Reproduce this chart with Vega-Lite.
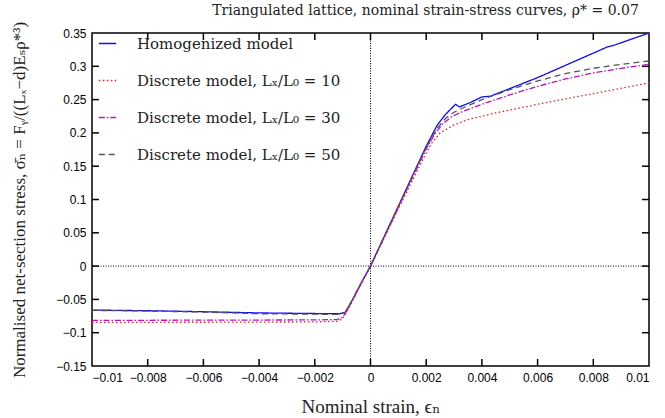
{
  "$schema": "https://vega.github.io/schema/vega-lite/v6.json",
  "width": 557,
  "height": 333,
  "padding": {"left": 92, "top": 33, "right": 16, "bottom": 52},
  "autosize": {"type": "none"},
  "background": "white",
  "title": {
    "text": "Triangulated lattice, nominal strain-stress curves, ρ* = 0.07",
    "font": "DejaVu Serif",
    "fontSize": 14,
    "fontWeight": "normal",
    "color": "#222",
    "anchor": "middle",
    "dx": 55,
    "offset": 3
  },
  "config": {
    "view": {"stroke": "black", "strokeWidth": 1.5},
    "axis": {
      "grid": false,
      "domain": false,
      "ticks": false,
      "labelPadding": 6,
      "labelFont": "Liberation Sans",
      "labelFontSize": 12,
      "labelColor": "black",
      "titleFont": "Liberation Serif, DejaVu Serif",
      "titleFontSize": 17,
      "titleFontWeight": "normal",
      "titleColor": "#222"
    },
    "legend": {
      "labelFont": "DejaVu Serif",
      "labelFontSize": 15,
      "labelColor": "#222",
      "labelLimit": 400
    }
  },
  "datasets": {
    "strainTicks": [
      {"strain": -0.008}, {"strain": -0.006}, {"strain": -0.004}, {"strain": -0.002},
      {"strain": 0}, {"strain": 0.002}, {"strain": 0.004}, {"strain": 0.006}, {"strain": 0.008}
    ],
    "stressTicks": [
      {"stress": -0.1}, {"stress": -0.05}, {"stress": 0}, {"stress": 0.05}, {"stress": 0.1},
      {"stress": 0.15}, {"stress": 0.2}, {"stress": 0.25}, {"stress": 0.3}
    ],
    "curves": [
      {"model": "Homogenized model", "strain": -0.01, "stress": -0.066},
      {"model": "Homogenized model", "strain": -0.008, "stress": -0.067},
      {"model": "Homogenized model", "strain": -0.006, "stress": -0.0685},
      {"model": "Homogenized model", "strain": -0.004, "stress": -0.0703},
      {"model": "Homogenized model", "strain": -0.002, "stress": -0.0712},
      {"model": "Homogenized model", "strain": -0.0011, "stress": -0.0716},
      {"model": "Homogenized model", "strain": -0.0009, "stress": -0.069},
      {"model": "Homogenized model", "strain": -0.0006, "stress": -0.047},
      {"model": "Homogenized model", "strain": -0.0003, "stress": -0.023},
      {"model": "Homogenized model", "strain": 0, "stress": 0},
      {"model": "Homogenized model", "strain": 0.0005, "stress": 0.045},
      {"model": "Homogenized model", "strain": 0.001, "stress": 0.09},
      {"model": "Homogenized model", "strain": 0.0015, "stress": 0.135},
      {"model": "Homogenized model", "strain": 0.002, "stress": 0.18},
      {"model": "Homogenized model", "strain": 0.0024, "stress": 0.212},
      {"model": "Homogenized model", "strain": 0.0027, "stress": 0.228},
      {"model": "Homogenized model", "strain": 0.00305, "stress": 0.243},
      {"model": "Homogenized model", "strain": 0.0032, "stress": 0.239},
      {"model": "Homogenized model", "strain": 0.0036, "stress": 0.246},
      {"model": "Homogenized model", "strain": 0.004, "stress": 0.254},
      {"model": "Homogenized model", "strain": 0.0043, "stress": 0.255},
      {"model": "Homogenized model", "strain": 0.006, "stress": 0.283},
      {"model": "Homogenized model", "strain": 0.0085, "stress": 0.329},
      {"model": "Homogenized model", "strain": 0.0087, "stress": 0.331},
      {"model": "Homogenized model", "strain": 0.01, "stress": 0.35},

      {"model": "Discrete model, Lₓ/L₀ = 10", "strain": -0.01, "stress": -0.0845},
      {"model": "Discrete model, Lₓ/L₀ = 10", "strain": -0.006, "stress": -0.0843},
      {"model": "Discrete model, Lₓ/L₀ = 10", "strain": -0.002, "stress": -0.0838},
      {"model": "Discrete model, Lₓ/L₀ = 10", "strain": -0.0012, "stress": -0.0828},
      {"model": "Discrete model, Lₓ/L₀ = 10", "strain": -0.001, "stress": -0.079},
      {"model": "Discrete model, Lₓ/L₀ = 10", "strain": -0.0008, "stress": -0.065},
      {"model": "Discrete model, Lₓ/L₀ = 10", "strain": -0.0005, "stress": -0.04},
      {"model": "Discrete model, Lₓ/L₀ = 10", "strain": -0.0002, "stress": -0.015},
      {"model": "Discrete model, Lₓ/L₀ = 10", "strain": 0, "stress": 0},
      {"model": "Discrete model, Lₓ/L₀ = 10", "strain": 0.0005, "stress": 0.043},
      {"model": "Discrete model, Lₓ/L₀ = 10", "strain": 0.001, "stress": 0.086},
      {"model": "Discrete model, Lₓ/L₀ = 10", "strain": 0.0015, "stress": 0.128},
      {"model": "Discrete model, Lₓ/L₀ = 10", "strain": 0.0019, "stress": 0.162},
      {"model": "Discrete model, Lₓ/L₀ = 10", "strain": 0.0022, "stress": 0.185},
      {"model": "Discrete model, Lₓ/L₀ = 10", "strain": 0.0025, "stress": 0.2},
      {"model": "Discrete model, Lₓ/L₀ = 10", "strain": 0.003, "stress": 0.212},
      {"model": "Discrete model, Lₓ/L₀ = 10", "strain": 0.0035, "stress": 0.22},
      {"model": "Discrete model, Lₓ/L₀ = 10", "strain": 0.0045, "stress": 0.23},
      {"model": "Discrete model, Lₓ/L₀ = 10", "strain": 0.006, "stress": 0.243},
      {"model": "Discrete model, Lₓ/L₀ = 10", "strain": 0.008, "stress": 0.259},
      {"model": "Discrete model, Lₓ/L₀ = 10", "strain": 0.01, "stress": 0.275},

      {"model": "Discrete model, Lₓ/L₀ = 30", "strain": -0.01, "stress": -0.0815},
      {"model": "Discrete model, Lₓ/L₀ = 30", "strain": -0.006, "stress": -0.0812},
      {"model": "Discrete model, Lₓ/L₀ = 30", "strain": -0.002, "stress": -0.0808},
      {"model": "Discrete model, Lₓ/L₀ = 30", "strain": -0.0012, "stress": -0.0803},
      {"model": "Discrete model, Lₓ/L₀ = 30", "strain": -0.001, "stress": -0.077},
      {"model": "Discrete model, Lₓ/L₀ = 30", "strain": -0.0008, "stress": -0.063},
      {"model": "Discrete model, Lₓ/L₀ = 30", "strain": -0.0005, "stress": -0.038},
      {"model": "Discrete model, Lₓ/L₀ = 30", "strain": -0.0002, "stress": -0.015},
      {"model": "Discrete model, Lₓ/L₀ = 30", "strain": 0, "stress": 0},
      {"model": "Discrete model, Lₓ/L₀ = 30", "strain": 0.0005, "stress": 0.044},
      {"model": "Discrete model, Lₓ/L₀ = 30", "strain": 0.001, "stress": 0.088},
      {"model": "Discrete model, Lₓ/L₀ = 30", "strain": 0.0015, "stress": 0.132},
      {"model": "Discrete model, Lₓ/L₀ = 30", "strain": 0.002, "stress": 0.176},
      {"model": "Discrete model, Lₓ/L₀ = 30", "strain": 0.0023, "stress": 0.198},
      {"model": "Discrete model, Lₓ/L₀ = 30", "strain": 0.0026, "stress": 0.214},
      {"model": "Discrete model, Lₓ/L₀ = 30", "strain": 0.0029, "stress": 0.224},
      {"model": "Discrete model, Lₓ/L₀ = 30", "strain": 0.0033, "stress": 0.232},
      {"model": "Discrete model, Lₓ/L₀ = 30", "strain": 0.004, "stress": 0.243},
      {"model": "Discrete model, Lₓ/L₀ = 30", "strain": 0.005, "stress": 0.257},
      {"model": "Discrete model, Lₓ/L₀ = 30", "strain": 0.006, "stress": 0.27},
      {"model": "Discrete model, Lₓ/L₀ = 30", "strain": 0.007, "stress": 0.281},
      {"model": "Discrete model, Lₓ/L₀ = 30", "strain": 0.008, "stress": 0.29},
      {"model": "Discrete model, Lₓ/L₀ = 30", "strain": 0.009, "stress": 0.297},
      {"model": "Discrete model, Lₓ/L₀ = 30", "strain": 0.01, "stress": 0.303},

      {"model": "Discrete model, Lₓ/L₀ = 50", "strain": -0.01, "stress": -0.0665},
      {"model": "Discrete model, Lₓ/L₀ = 50", "strain": -0.008, "stress": -0.0675},
      {"model": "Discrete model, Lₓ/L₀ = 50", "strain": -0.006, "stress": -0.069},
      {"model": "Discrete model, Lₓ/L₀ = 50", "strain": -0.004, "stress": -0.0715},
      {"model": "Discrete model, Lₓ/L₀ = 50", "strain": -0.002, "stress": -0.0722},
      {"model": "Discrete model, Lₓ/L₀ = 50", "strain": -0.0011, "stress": -0.0725},
      {"model": "Discrete model, Lₓ/L₀ = 50", "strain": -0.0009, "stress": -0.0695},
      {"model": "Discrete model, Lₓ/L₀ = 50", "strain": -0.0006, "stress": -0.047},
      {"model": "Discrete model, Lₓ/L₀ = 50", "strain": -0.0003, "stress": -0.023},
      {"model": "Discrete model, Lₓ/L₀ = 50", "strain": 0, "stress": 0},
      {"model": "Discrete model, Lₓ/L₀ = 50", "strain": 0.0005, "stress": 0.045},
      {"model": "Discrete model, Lₓ/L₀ = 50", "strain": 0.001, "stress": 0.09},
      {"model": "Discrete model, Lₓ/L₀ = 50", "strain": 0.0015, "stress": 0.134},
      {"model": "Discrete model, Lₓ/L₀ = 50", "strain": 0.002, "stress": 0.178},
      {"model": "Discrete model, Lₓ/L₀ = 50", "strain": 0.0024, "stress": 0.207},
      {"model": "Discrete model, Lₓ/L₀ = 50", "strain": 0.0027, "stress": 0.222},
      {"model": "Discrete model, Lₓ/L₀ = 50", "strain": 0.003, "stress": 0.231},
      {"model": "Discrete model, Lₓ/L₀ = 50", "strain": 0.0033, "stress": 0.237},
      {"model": "Discrete model, Lₓ/L₀ = 50", "strain": 0.004, "stress": 0.25},
      {"model": "Discrete model, Lₓ/L₀ = 50", "strain": 0.005, "stress": 0.265},
      {"model": "Discrete model, Lₓ/L₀ = 50", "strain": 0.006, "stress": 0.278},
      {"model": "Discrete model, Lₓ/L₀ = 50", "strain": 0.007, "stress": 0.289},
      {"model": "Discrete model, Lₓ/L₀ = 50", "strain": 0.008, "stress": 0.297},
      {"model": "Discrete model, Lₓ/L₀ = 50", "strain": 0.009, "stress": 0.303},
      {"model": "Discrete model, Lₓ/L₀ = 50", "strain": 0.01, "stress": 0.308}
    ]
  },
  "layer": [
    {
      "data": {"values": [{"level": 0}]},
      "mark": {"type": "rule", "color": "black", "strokeWidth": 1, "strokeDash": [1, 1.5]},
      "encoding": {
        "y": {"field": "level", "type": "quantitative", "scale": {"domain": [-0.15, 0.35], "nice": false, "zero": false}, "axis": null}
      }
    },
    {
      "data": {"values": [{"level": 0}]},
      "mark": {"type": "rule", "color": "black", "strokeWidth": 1, "strokeDash": [1, 1.5]},
      "encoding": {
        "x": {"field": "level", "type": "quantitative", "scale": {"domain": [-0.01, 0.01], "nice": false, "zero": false}, "axis": null}
      }
    },
    {
      "data": {"name": "strainTicks"},
      "mark": {"type": "rule", "color": "black", "strokeWidth": 1.5},
      "encoding": {
        "x": {"field": "strain", "type": "quantitative", "scale": {"domain": [-0.01, 0.01], "nice": false, "zero": false}, "axis": null},
        "y": {"datum": -0.15, "type": "quantitative", "scale": {"domain": [-0.15, 0.35], "nice": false, "zero": false}, "axis": null},
        "y2": {"datum": -0.1395}
      }
    },
    {
      "data": {"name": "strainTicks"},
      "mark": {"type": "rule", "color": "black", "strokeWidth": 1.5},
      "encoding": {
        "x": {"field": "strain", "type": "quantitative", "scale": {"domain": [-0.01, 0.01], "nice": false, "zero": false}, "axis": null},
        "y": {"datum": 0.35, "type": "quantitative", "scale": {"domain": [-0.15, 0.35], "nice": false, "zero": false}, "axis": null},
        "y2": {"datum": 0.3395}
      }
    },
    {
      "data": {"name": "stressTicks"},
      "mark": {"type": "rule", "color": "black", "strokeWidth": 1.5},
      "encoding": {
        "y": {"field": "stress", "type": "quantitative", "scale": {"domain": [-0.15, 0.35], "nice": false, "zero": false}, "axis": null},
        "x": {"datum": -0.01, "type": "quantitative", "scale": {"domain": [-0.01, 0.01], "nice": false, "zero": false}, "axis": null},
        "x2": {"datum": -0.00975}
      }
    },
    {
      "data": {"name": "stressTicks"},
      "mark": {"type": "rule", "color": "black", "strokeWidth": 1.5},
      "encoding": {
        "y": {"field": "stress", "type": "quantitative", "scale": {"domain": [-0.15, 0.35], "nice": false, "zero": false}, "axis": null},
        "x": {"datum": 0.01, "type": "quantitative", "scale": {"domain": [-0.01, 0.01], "nice": false, "zero": false}, "axis": null},
        "x2": {"datum": 0.00975}
      }
    },
    {
      "data": {"name": "curves"},
      "mark": {"type": "line", "strokeWidth": 1.3, "clip": true},
      "encoding": {
        "x": {
          "field": "strain",
          "type": "quantitative",
          "scale": {"domain": [-0.01, 0.01], "nice": false, "zero": false},
          "axis": {
            "orient": "bottom",
            "title": "Nominal strain, ϵₙ",
            "titleFontSize": 19,
            "format": "~g",
            "titleY": 31,
            "values": [-0.01, -0.008, -0.006, -0.004, -0.002, 0, 0.002, 0.004, 0.006, 0.008, 0.01]
          }
        },
        "y": {
          "field": "stress",
          "type": "quantitative",
          "scale": {"domain": [-0.15, 0.35], "nice": false, "zero": false},
          "axis": {
            "orient": "left",
            "title": "Normalised net-section stress, σ̄ₙ = Fᵧ/((Lₓ−d)Eₛρ*³)",
            "format": "~g",
            "titleX": -64,
            "values": [-0.15, -0.1, -0.05, 0, 0.05, 0.1, 0.15, 0.2, 0.25, 0.3, 0.35]
          }
        },
        "color": {
          "field": "model",
          "type": "nominal",
          "scale": {
            "domain": ["Homogenized model", "Discrete model, Lₓ/L₀ = 10", "Discrete model, Lₓ/L₀ = 30", "Discrete model, Lₓ/L₀ = 50"],
            "range": ["#0a0aff", "#ff1a1a", "#c010c0", "#555555"]
          },
          "legend": {
            "title": null,
            "orient": "none",
            "legendX": 6,
            "legendY": 1,
            "symbolType": "stroke",
            "symbolSize": 300,
            "symbolStrokeWidth": 1.3,
            "rowPadding": 19,
            "labelOffset": 20
          }
        },
        "strokeDash": {
          "field": "model",
          "type": "nominal",
          "scale": {
            "domain": ["Homogenized model", "Discrete model, Lₓ/L₀ = 10", "Discrete model, Lₓ/L₀ = 30", "Discrete model, Lₓ/L₀ = 50"],
            "range": [[1, 0], [1.5, 2.5], [6, 2, 1.5, 2], [6, 4]]
          },
          "legend": null
        }
      }
    }
  ],
  "resolve": {"axis": {"x": "independent", "y": "independent"}}
}
